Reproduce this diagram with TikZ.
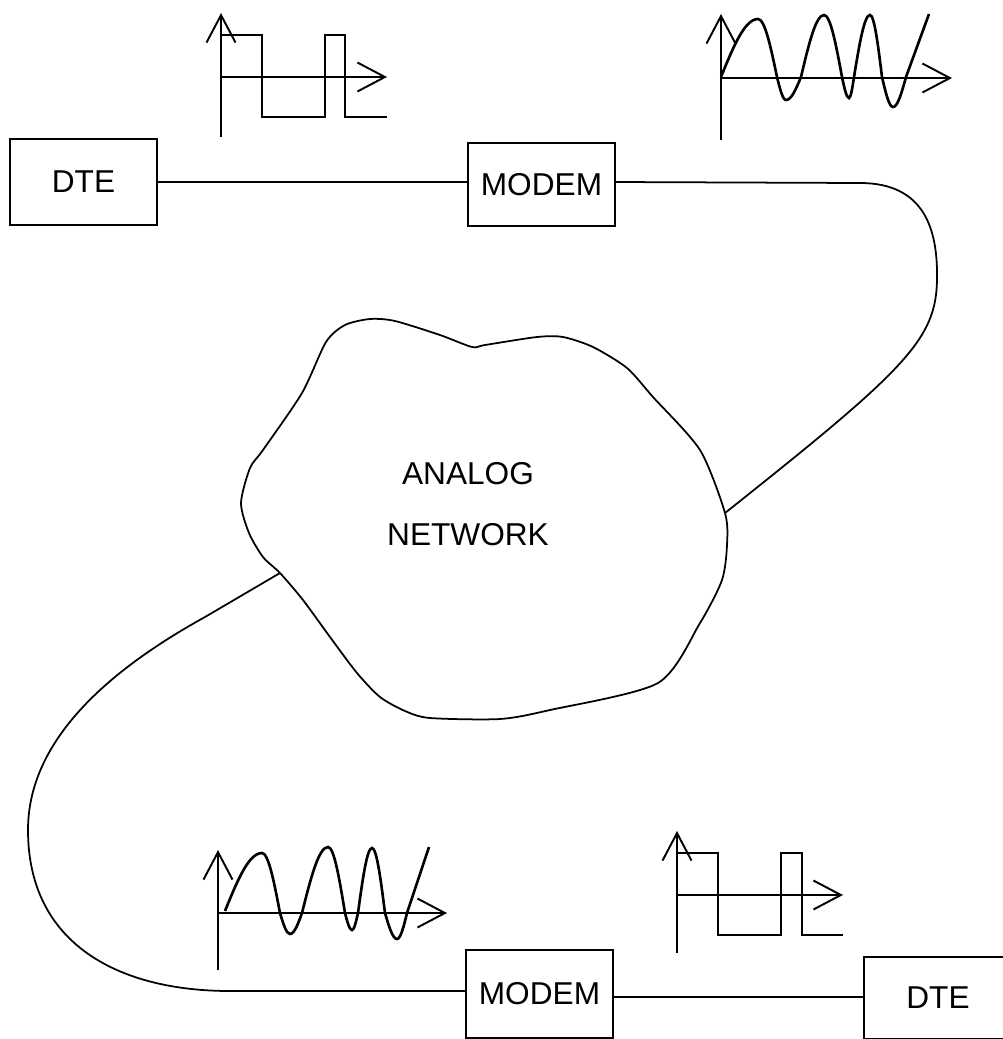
\documentclass[tikz,border=0pt]{standalone}
\usepackage{fontspec}
\setmainfont{Liberation Sans}
\usetikzlibrary{arrows.meta}
\tikzset{
  unit/.style={draw, line width=1.1pt, minimum width=2.94cm, minimum height=1.72cm,
               inner sep=0pt, font=\fontsize{18}{22}\selectfont},
  wire/.style={line width=1pt},
  axis/.style={line width=1.1pt, -{Straight Barb[length=5.5mm, width=5.8mm]}},
  wave/.style={line width=1.5pt},
  pulse/.style={line width=1.2pt},
}

\begin{document}
\begin{tikzpicture}[x=0.02cm, y=-0.02cm]
  \useasboundingbox (0,0) rectangle (1003,1039);
  \clip (0,0) rectangle (1003,1039);

  % ---- stations ----------------------------------------------------
  \node[unit] (dteTop)   at (83.5,182)  {DTE};
  \node[unit, minimum height=1.66cm] (modemTop) at (541.5,184.5) {MODEM};
  \node[unit, minimum height=1.76cm] (modemBot) at (539.5,994) {MODEM};
  \node[unit, minimum width=2.96cm, minimum height=1.64cm] (dteBot) at (938,998) {DTE};

  % ---- analog network cloud ----------------------------------------
  \draw[wire] plot[smooth cycle, tension=0.45] coordinates {
    (241,503) (250,468) (263,450) (302,393) (326,342) (345,325) (370,319)
    (395,321) (440,335) (472,347) (485,345) (537,337) (563,337) (593,347)
    (627,368) (653,397) (700,450) (725,513) (727,545) (722,580) (700,623)
    (658,683) (550,710) (500,719) (430,718) (405,711) (380,697) (357,673)
    (330,637) (303,600) (280,573) (263,557) (249,533)};
  \node[font=\fontsize{18}{35}\selectfont, align=center] (net) at (468,504)
    {ANALOG\\NETWORK};
  \coordinate (netE) at (725,513);
  \coordinate (netW) at (280,573);

  % ---- lines -------------------------------------------------------
  \draw[wire] (dteTop.east) -- (modemTop.west |- dteTop.east);
  \draw[wire] (modemTop.east |- dteTop.east) -- (860,183)
    .. controls (925,183) and (938,230) .. (937,280)
    .. controls (936,340) and (905,370) .. (netE);
  \draw[wire] (netW) -- (205,617)
    .. controls (100,675) and (28,745) .. (28,830)
    .. controls (28,945) and (120,991) .. (230,991) -- (modemBot.west |- 0,991);
  \draw[wire] (modemBot.east |- 0,997) -- (dteBot.west |- 0,997);

  % ---- digital signal, top left ------------------------------------
  \draw[axis] (221,137) -- (221,13);
  \draw[axis] (221,77) -- (387,77);
  \draw[pulse] (221,35) -- (262,35) -- (262,117) -- (325,117) -- (325,35)
    -- (345,35) -- (345,117) -- (387,117);

  % ---- analog signal, top right ------------------------------------
  \draw[axis] (721,140) -- (721,14);
  \draw[axis] (721,78) -- (952,78);
  \draw[wave] (721,77) sin (758,19) cos (777,77) sin (786,100) cos (801,77)
    sin (824,15) cos (842,77) sin (849,98) cos (854,77) sin (870,15)
    cos (882,77) sin (893,107) cos (906,77) -- (929,14);

  % ---- analog signal, bottom left ----------------------------------
  \draw[axis] (218,970) -- (218,850);
  \draw[axis] (218,913) -- (447,913);
  \draw[wave] (225,911) sin (262,853) cos (280,913) sin (290,934) cos (302,913)
    sin (328,847) cos (345,913) sin (352,930) cos (358,913) sin (372,848)
    cos (385,913) sin (397,939) cos (407,913) -- (429,847);

  % ---- digital signal, bottom right --------------------------------
  \draw[axis] (677,953) -- (677,831);
  \draw[axis] (677,895) -- (843,895);
  \draw[pulse] (677,853) -- (718,853) -- (718,935) -- (781,935) -- (781,853)
    -- (802,853) -- (802,935) -- (843,935);
\end{tikzpicture}
\end{document}
